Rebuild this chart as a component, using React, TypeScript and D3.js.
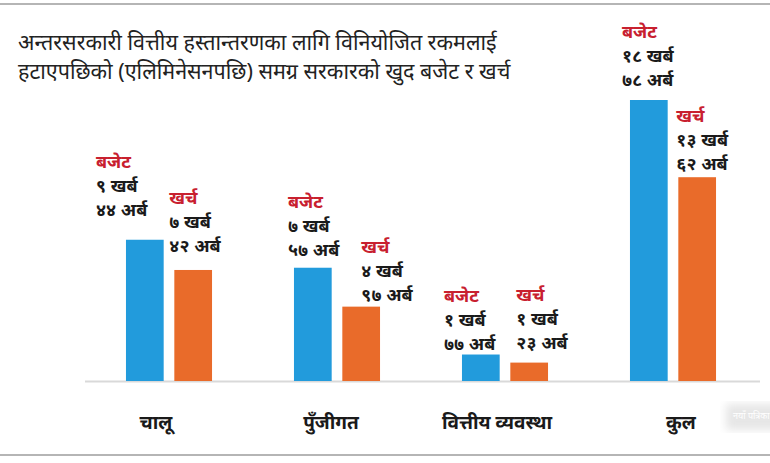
import React, { useEffect, useRef } from "react";
import * as d3 from "d3";

// categories and values (in अर्ब)
const categories = ["चालू", "पुँजीगत", "वित्तीय व्यवस्था", "कुल"];
const budget = [944, 757, 177, 1878];
const spending = [742, 497, 123, 1362];
const budgetText = [["९ खर्ब", "४४ अर्ब"], ["७ खर्ब", "५७ अर्ब"], ["१ खर्ब", "७७ अर्ब"], ["१८ खर्ब", "७८ अर्ब"]];
const spendingText = [["७ खर्ब", "४२ अर्ब"], ["४ खर्ब", "९७ अर्ब"], ["१ खर्ब", "२३ अर्ब"], ["१३ खर्ब", "६२ अर्ब"]];
const seriesNames = ["बजेट", "खर्च"];
const titleLines = [
  "अन्तरसरकारी वित्तीय हस्तान्तरणका लागि विनियोजित रकमलाई",
  "हटाएपछिको (एलिमिनेसनपछि) समग्र सरकारको खुद बजेट र खर्च",
];

// label nudges [dx from bar, gap above bar]
const budgetNudge = [[-30, 24], [-6, 12], [-18, 5], [-8, 14]];
const spendingNudge = [[-5, 18], [19, 6], [6, 14], [-2, 7]];
const categoryNudge = [-13, -6, -8, 8];

const W = 770;
const H = 463;
const FONT = "'Noto Sans', sans-serif";

const App = () => {
  const ref = useRef<SVGSVGElement>(null);

  useEffect(() => {
    const svg = d3.select(ref.current);
    svg.selectAll("*").remove();

    const baseY = 381;
    const x = d3.scaleBand().domain(categories).range([85, 757]);
    const sub = d3.scaleBand().domain(["b", "s"]).range([-44, 44]).paddingInner(0.22).paddingOuter(0.02);
    const y = d3.scaleLinear().domain([0, d3.max(budget) as number]).range([baseY, 100]);

    const defs = svg.append("defs");
    defs.append("filter").attr("id", "blur").append("feGaussianBlur").attr("stdDeviation", 4);

    // frame lines
    svg.append("line").attr("x1", 0).attr("x2", W).attr("y1", 4).attr("y2", 4)
      .attr("stroke", "#b5b5b5").attr("stroke-width", 2);
    svg.append("line").attr("x1", 0).attr("x2", W).attr("y1", 455).attr("y2", 455)
      .attr("stroke", "#b5b5b5").attr("stroke-width", 2);

    // title
    svg.append("g").selectAll("text").data(titleLines).enter().append("text")
      .attr("x", 18).attr("y", (d, i) => 50 + i * 29)
      .attr("font-family", FONT).attr("font-size", 21.5).attr("fill", "#222")
      .text(d => d);

    // baseline
    svg.append("line").attr("x1", 85).attr("x2", 760).attr("y1", baseY + 0.5).attr("y2", baseY + 0.5)
      .attr("stroke", "#d9d9d9").attr("stroke-width", 2);

    const series = [
      { key: "b", values: budget, text: budgetText, nudge: budgetNudge, color: "#229bdc", name: seriesNames[0] },
      { key: "s", values: spending, text: spendingText, nudge: spendingNudge, color: "#e96b2a", name: seriesNames[1] },
    ];

    series.forEach(s => {
      const g = svg.append("g");
      g.selectAll("rect").data(s.values).enter().append("rect")
        .attr("x", (d, i) => (x(categories[i]) as number) + x.bandwidth() / 2 + (sub(s.key) as number))
        .attr("width", sub.bandwidth())
        .attr("y", d => y(d))
        .attr("height", d => baseY - y(d))
        .attr("fill", s.color);

      s.values.forEach((v, i) => {
        const lx = (x(categories[i]) as number) + x.bandwidth() / 2 + (sub(s.key) as number) + s.nudge[i][0];
        const last = y(v) - s.nudge[i][1];
        const lines = [s.name, ...s.text[i]];
        g.append("g").selectAll("text").data(lines).enter().append("text")
          .attr("x", lx)
          .attr("y", (d, j) => last - (lines.length - 1 - j) * 24)
          .attr("font-family", FONT)
          .attr("font-size", 18)
          .attr("font-weight", "bold")
          .attr("fill", (d, j) => (j === 0 ? "#c8202f" : "#1a1a1a"))
          .text(d => d);
      });
    });

    // category labels
    svg.append("g").selectAll("text").data(categories).enter().append("text")
      .attr("x", (d, i) => (x(d) as number) + x.bandwidth() / 2 + categoryNudge[i])
      .attr("y", 429)
      .attr("text-anchor", "middle")
      .attr("font-family", FONT)
      .attr("font-size", 19)
      .attr("font-weight", "bold")
      .attr("fill", "#1a1a1a")
      .text(d => d);

    // watermark
    svg.append("rect").attr("x", 726).attr("y", 404).attr("width", 60).attr("height", 26)
      .attr("fill", "#e6e6e6").attr("filter", "url(#blur)");
    svg.append("text").attr("x", 733).attr("y", 419)
      .attr("font-family", FONT).attr("font-size", 9).attr("fill", "#ffffff")
      .text("नयाँ पत्रिका");
  }, []);

  return (
    <svg ref={ref} width={W} height={H}
      style={{ position: "absolute", left: 0, top: 0, background: "#fff" }} />
  );
};

export default App;
